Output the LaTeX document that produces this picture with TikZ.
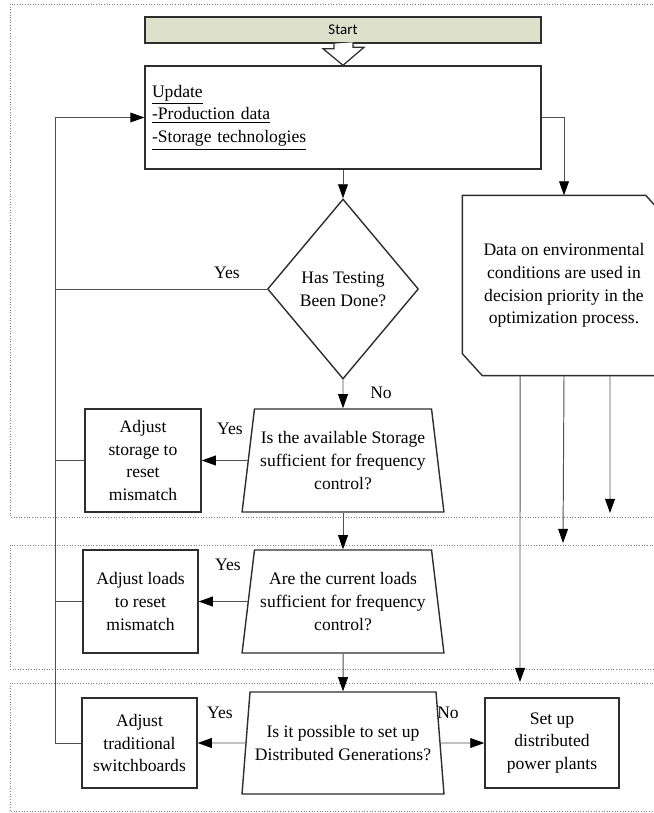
\documentclass[tikz,border=0pt]{standalone}
\usepackage{fontspec}
\setmainfont{Liberation Serif}
\newfontfamily\startfont{Carlito}
\usetikzlibrary{shapes.geometric,arrows.meta}

\definecolor{startfill}{HTML}{DDE1CB}
\definecolor{edge}{HTML}{2E2E2E}
\definecolor{wire}{HTML}{505050}

\tikzset{
  base/.style={draw=edge, line width=0.8pt, font=\fontsize{10}{13}\selectfont, align=center, inner sep=2pt},
  procbox/.style={base, rectangle},
  decision/.style={base, diamond, inner sep=0pt},
  question/.style={base, trapezium, trapezium left angle=79.5, trapezium right angle=79.5,
    trapezium stretches=true, minimum width=4.04cm, minimum height=2.06cm},
  link/.style={draw=wire, line width=0.55pt},
  arr/.style={link, -{Triangle[length=8pt,width=5.6pt,color=black]}},
  panel/.style={draw=gray, line width=0.4pt, dash pattern=on 0.5pt off 1pt},
  lbl/.style={font=\fontsize{10}{13}\selectfont, inner sep=0pt}
}

\begin{document}
\begin{tikzpicture}[x=0.02cm, y=-0.02cm]
    \useasboundingbox (0,0) rectangle (653,813);

    \draw[panel] (653,4) -| (10,517) -- (653,517);
    \draw[panel] (653,545) -| (10,669) -- (653,669);
    \draw[panel] (653,683) -| (10,811) -- (653,811);

    \node[procbox, fill=startfill, minimum width=7.92cm, minimum height=0.52cm, font=\startfont\fontsize{8.5}{9}\selectfont] (start) at (343,30) {Start};
    \node[procbox, minimum height=2.06cm, text width=7.64cm, inner xsep=0.14cm, align=left] (update) at (343,117.5)
        {\underline{Update}\\\underline{-Production data}\\\underline{-Storage technologies}};
    \filldraw[draw=edge, fill=white, line width=0.7pt] ([xshift=-0.18cm]start.south) -- ++(0,5) -- ++(-11,0)
        -- (update.north) -- ++(21,-18) -- ++(-11,0) -- ++(0,-5);

    \node[decision, minimum width=3.02cm, minimum height=3.6cm] (test) at (343,289) {Has Testing\\Been Done?};

    \node[procbox, draw=none, minimum width=4.04cm, minimum height=3.58cm] (env) at (564,285.5)
        {Data on environmental\\conditions are used in\\decision priority in the\\optimization process.};
    \draw[draw=edge, line width=0.8pt] (env.north west) -- ([xshift=-0.4cm]env.north east) -- ([yshift=-0.44cm]env.north east)
        -- (env.south east) -- ([xshift=0.4cm]env.south west) -- ([yshift=0.44cm]env.south west) -- cycle;

    \node[question] (storq) at (343,460.5) {Is the available Storage\\sufficient for frequency\\control?};
    \node[procbox, minimum width=2.32cm, minimum height=2.06cm] (adjstor) at (143,460.5) {Adjust\\storage to\\reset\\mismatch};

    \node[question] (loadq) at (343,601.5) {Are the current loads\\sufficient for frequency\\control?};
    \node[procbox, minimum width=2.3cm, minimum height=2.06cm] (adjload) at (140.5,601.5) {Adjust loads\\to reset\\mismatch};

    \node[question, minimum height=2.04cm] (dgq) at (343,743) {Is it possible to set up\\Distributed Generations?};
    \node[procbox, minimum width=2.3cm, minimum height=1.8cm] (adjsw) at (139.5,743) {Adjust\\traditional\\switchboards};
    \node[procbox, minimum width=2.68cm, minimum height=1.8cm] (plant) at (552,743) {Set up\\distributed\\power plants};

    \node[lbl] (yes1) at (227,273) {Yes};
    \node[lbl] (no1) at (381,393) {No};
    \node[lbl] (yes2) at (230,429) {Yes};
    \node[lbl] (yes3) at (228,565) {Yes};
    \node[lbl] (yes4) at (220,713) {Yes};
    \node[lbl] (no2) at (448,713) {No};

    \coordinate (trunk) at (55,117.5);
    \coordinate (end1) at (610,513);
    \coordinate (end2) at (563,543);
    \coordinate (end3) at (520,682);

    \draw[arr] (update.south) -- (test.north);
    \draw[arr] (update.east) -| (env.north);
    \draw[arr] (test.south) -- (storq.north);
    \draw[arr] (storq.west) -- (adjstor.east);
    \draw[arr] (storq.south) -- (loadq.north);
    \draw[arr] (loadq.west) -- (adjload.east);
    \draw[arr] (loadq.south) -- (dgq.north);
    \draw[arr] (dgq.west) -- (adjsw.east);
    \draw[arr] (dgq.east) -- (plant.west);

    \draw[link] (test.west) -- (test.west -| trunk);
    \draw[link] (adjstor.west) -- (adjstor.west -| trunk);
    \draw[link] (adjload.west) -- (adjload.west -| trunk);
    \draw[arr] (adjsw.west) -| (trunk) -- (update.west);

    \draw[arr] ([xshift=0.92cm]env.south) -- (end1);
    \draw[arr] (env.south) -- (end2);
    \draw[arr] ([xshift=-0.88cm]env.south) -- (end3);
\end{tikzpicture}
\end{document}
